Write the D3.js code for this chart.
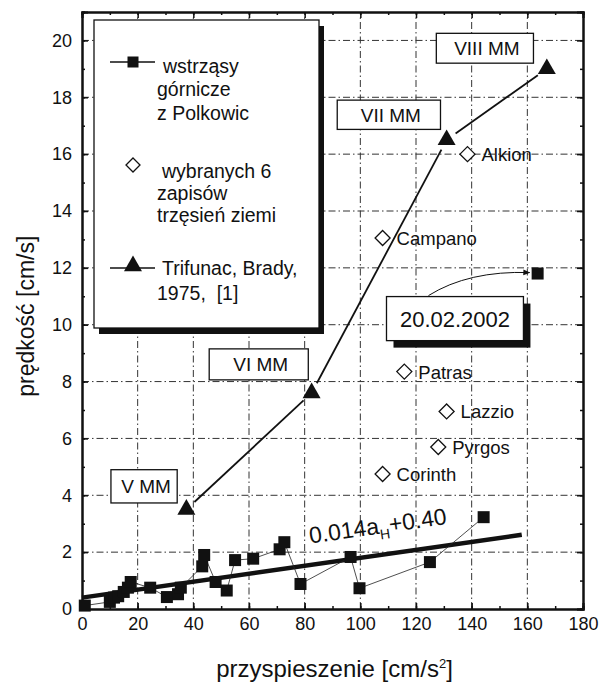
<!DOCTYPE html>
<html>
<head>
<meta charset="utf-8">
<script src="https://cdn.jsdelivr.net/npm/d3@7"></script>
<style>
  body { margin: 0; background: #fff; }
  text { font-family: "Liberation Sans", Arial, sans-serif; fill: #111; }
</style>
</head>
<body>
<div id="chart"></div>
<script>
// --- data ---
var polkowiceX = [1, 10, 11.5, 13, 15, 16.5, 17.5, 24.5, 30.5, 34.5, 35.5, 43.2, 43.9, 48, 52, 55, 61.5, 71, 72.7, 78.5, 96.5, 99.7, 125, 144.3];
var polkowiceY = [0.12, 0.25, 0.4, 0.45, 0.6, 0.75, 0.95, 0.75, 0.42, 0.52, 0.75, 1.5, 1.9, 0.95, 0.65, 1.72, 1.77, 2.1, 2.35, 0.88, 1.83, 0.73, 1.65, 3.23];
var eventX = 163.7, eventY = 11.8;            // 20.02.2002
var quakeNames = ["Alkion", "Campano", "Patras", "Lazzio", "Pyrgos", "Corinth"];
var quakeX = [138.5, 108, 115.8, 131, 128, 108];
var quakeY = [16, 13.05, 8.35, 6.95, 5.7, 4.75];
var trifunacX = [37.5, 82.5, 131, 167];
var trifunacY = [3.5, 7.6, 16.5, 19];
var mmLabels = ["V MM", "VI MM", "VII MM", "VIII MM"];
// label boxes in data units: [x0, x1, y0, y1]
var mmBoxes = [[10.4, 34.2, 3.73, 4.9], [45.7, 81.3, 8.06, 9.15], [91.7, 128.8, 16.87, 17.9], [127.3, 162.2, 19.2, 20.25]];
var dateBox = [109.4, 158.6, 9.44, 10.99];
var fitSlope = 0.014, fitIntercept = 0.40, fitRange = [0, 158];
var xTicks = d3.range(0, 181, 20), xMinor = d3.range(0, 181, 10);
var yTicks = d3.range(0, 21, 2), yMinor = d3.range(0, 22, 1);

var W = 599, H = 684;
var margin = {top: 12, right: 16, bottom: 75, left: 82};

var svg = d3.select("#chart").append("svg")
    .attr("width", W).attr("height", H);

var x = d3.scaleLinear().domain([0, 180]).range([margin.left, W - margin.right]);
var y = d3.scaleLinear().domain([0, 21]).range([H - margin.bottom, margin.top]);

// grid (dash-dot)
var grid = svg.append("g").attr("stroke", "#333").attr("stroke-width", 1)
    .attr("stroke-dasharray", "7,3,1.5,3");
grid.selectAll(".gx").data(xTicks.slice(1, -1)).enter().append("line")
    .attr("x1", function(d) { return x(d); }).attr("x2", function(d) { return x(d); })
    .attr("y1", y(0)).attr("y2", y(21));
grid.selectAll(".gy").data(yTicks.slice(1)).enter().append("line")
    .attr("y1", function(d) { return y(d); }).attr("y2", function(d) { return y(d); })
    .attr("x1", x(0)).attr("x2", x(180));

// axes, ticks pointing inward on all four sides
function axisStyle(g) {
    g.select(".domain").attr("stroke", "#111").attr("stroke-width", 2);
    g.selectAll(".tick line").attr("stroke", "#111").attr("stroke-width", 1.5);
    g.selectAll("text").style("font-size", "18px").attr("fill", "#111");
}
svg.append("g").attr("transform", "translate(0," + y(0) + ")")
    .call(d3.axisBottom(x).tickValues(xMinor).tickSize(-3).tickFormat(""))
    .call(axisStyle);
svg.append("g").attr("transform", "translate(0," + y(0) + ")")
    .call(d3.axisBottom(x).tickValues(xTicks).tickSize(-6).tickPadding(8))
    .call(axisStyle);
svg.append("g").attr("transform", "translate(0," + y(21) + ")")
    .call(d3.axisTop(x).tickValues(xMinor).tickSize(-3).tickFormat(""))
    .call(axisStyle);
svg.append("g").attr("transform", "translate(0," + y(21) + ")")
    .call(d3.axisTop(x).tickValues(xTicks).tickSize(-6).tickFormat(""))
    .call(axisStyle);
svg.append("g").attr("transform", "translate(" + x(0) + ",0)")
    .call(d3.axisLeft(y).tickValues(yMinor).tickSize(-3).tickFormat(""))
    .call(axisStyle);
svg.append("g").attr("transform", "translate(" + x(0) + ",0)")
    .call(d3.axisLeft(y).tickValues(yTicks).tickSize(-6).tickPadding(10))
    .call(axisStyle);
svg.append("g").attr("transform", "translate(" + x(180) + ",0)")
    .call(d3.axisRight(y).tickValues(yMinor).tickSize(-3).tickFormat(""))
    .call(axisStyle);
svg.append("g").attr("transform", "translate(" + x(180) + ",0)")
    .call(d3.axisRight(y).tickValues(yTicks).tickSize(-6).tickFormat(""))
    .call(axisStyle);

// axis titles
svg.append("text")
    .attr("x", (x(0) + x(180)) / 2 + 2).attr("y", 677)
    .attr("text-anchor", "middle").style("font-size", "24px")
    .html("przyspieszenie [cm/s<tspan dy='-9' style='font-size:13px'>2</tspan><tspan dy='9'>]</tspan>");
svg.append("text")
    .attr("transform", "translate(34," + (y(10.3)) + ") rotate(-90)")
    .attr("text-anchor", "middle").style("font-size", "23px")
    .text("prędkość [cm/s]");

// regression line
svg.append("line")
    .attr("x1", x(fitRange[0])).attr("y1", y(fitIntercept + fitSlope * fitRange[0]))
    .attr("x2", x(fitRange[1])).attr("y2", y(fitIntercept + fitSlope * fitRange[1]))
    .attr("stroke", "#111").attr("stroke-width", 4.5);
var ang = Math.atan2(y(fitIntercept + fitSlope * 100) - y(fitIntercept), x(100) - x(0)) * 180 / Math.PI;
svg.append("text")
    .attr("transform", "translate(" + x(82) + "," + y(2.3) + ") rotate(" + ang + ")")
    .style("font-size", "23px")
    .html("0.014a<tspan dy='6' style='font-size:14px'>H</tspan><tspan dy='-6'>+0.40</tspan>");

// thin connecting line of the Polkowice points
var pts = polkowiceX.map(function(d, i) { return [d, polkowiceY[i]]; });
svg.append("path")
    .datum(pts)
    .attr("d", d3.line().x(function(d) { return x(d[0]); }).y(function(d) { return y(d[1]); }))
    .attr("fill", "none").attr("stroke", "#222").attr("stroke-width", 0.8);

// Trifunac, Brady line with gaps near markers
var tri = trifunacX.map(function(d, i) { return [x(d), y(trifunacY[i])]; });
for (var i = 0; i < tri.length - 1; i++) {
    var a = tri[i], b = tri[i + 1];
    var dx = b[0] - a[0], dy = b[1] - a[1], L = Math.sqrt(dx * dx + dy * dy);
    var g = 11;
    svg.append("line")
        .attr("x1", a[0] + dx / L * g).attr("y1", a[1] + dy / L * g)
        .attr("x2", b[0] - dx / L * g).attr("y2", b[1] - dy / L * g)
        .attr("stroke", "#111").attr("stroke-width", 1.8);
}

// white label boxes for MM intensity
mmLabels.forEach(function(lab, i) {
    var bx = mmBoxes[i];
    svg.append("rect")
        .attr("x", x(bx[0])).attr("y", y(bx[3]))
        .attr("width", x(bx[1]) - x(bx[0])).attr("height", y(bx[2]) - y(bx[3]))
        .attr("fill", "#fff").attr("stroke", "#111").attr("stroke-width", 1.3);
    svg.append("text")
        .attr("x", (x(bx[0]) + x(bx[1])) / 2 + 2).attr("y", (y(bx[2]) + y(bx[3])) / 2 + 7)
        .attr("text-anchor", "middle").style("font-size", "19px")
        .text(lab);
});

// Trifunac markers
svg.selectAll(".tri").data(trifunacX).enter().append("path")
    .attr("d", d3.symbol().type(d3.symbolTriangle).size(140))
    .attr("transform", function(d, i) { return "translate(" + x(d) + "," + y(trifunacY[i]) + ")"; })
    .attr("fill", "#111");

// earthquake records (open diamonds)
function diamond(r) { return "M0," + (-r) + "L" + r + ",0L0," + r + "L" + (-r) + ",0Z"; }
svg.selectAll(".dia").data(quakeX).enter().append("path")
    .attr("d", diamond(7.5))
    .attr("transform", function(d, i) { return "translate(" + x(d) + "," + y(quakeY[i]) + ")"; })
    .attr("fill", "#fff").attr("stroke", "#111").attr("stroke-width", 1.3);
svg.selectAll(".dlab").data(quakeNames).enter().append("text")
    .attr("x", function(d, i) { return x(quakeX[i]) + 14; })
    .attr("y", function(d, i) { return y(quakeY[i]) + 7; })
    .style("font-size", "18.5px")
    .text(function(d) { return d; });

// Polkowice squares
svg.selectAll(".sq").data(pts).enter().append("rect")
    .attr("x", function(d) { return x(d[0]) - 6; })
    .attr("y", function(d) { return y(d[1]) - 6; })
    .attr("width", 12).attr("height", 12).attr("fill", "#111");
svg.append("rect")
    .attr("x", x(eventX) - 6).attr("y", y(eventY) - 6)
    .attr("width", 12).attr("height", 12).attr("fill", "#111");

// 20.02.2002 box with shadow and curved arrow
var dbx = x(dateBox[0]), dby = y(dateBox[3]), dbw = x(dateBox[1]) - x(dateBox[0]), dbh = y(dateBox[2]) - y(dateBox[3]);
svg.append("rect").attr("x", dbx + 7).attr("y", dby + 7).attr("width", dbw).attr("height", dbh).attr("fill", "#111");
svg.append("rect").attr("x", dbx).attr("y", dby).attr("width", dbw).attr("height", dbh)
    .attr("fill", "#fff").attr("stroke", "#111").attr("stroke-width", 1.3);
svg.append("text").attr("x", dbx + dbw / 2).attr("y", dby + dbh / 2 + 8)
    .attr("text-anchor", "middle").style("font-size", "22px").text("20.02.2002");

svg.append("defs").append("marker").attr("id", "arr")
    .attr("viewBox", "0 0 10 10").attr("refX", 9).attr("refY", 5)
    .attr("markerWidth", 7).attr("markerHeight", 7).attr("orient", "auto")
    .append("path").attr("d", "M0,1L10,5L0,9Z").attr("fill", "#111");
var ax0 = dbx + 42, ay0 = dby - 1, ax1 = x(eventX) - 8, ay1 = y(eventY) - 1;
svg.append("path")
    .attr("d", "M" + ax0 + "," + ay0 + "Q" + (ax0 + 40) + "," + (ay1 - 2) + " " + ax1 + "," + ay1)
    .attr("fill", "none").attr("stroke", "#111").attr("stroke-width", 1)
    .attr("marker-end", "url(#arr)");

// legend with drop shadow
var lg = svg.append("g");
lg.append("rect").attr("x", 99).attr("y", 26).attr("width", 225).attr("height", 308).attr("fill", "#111");
lg.append("rect").attr("x", 94).attr("y", 20).attr("width", 225).attr("height", 308)
    .attr("fill", "#fff").attr("stroke", "#111").attr("stroke-width", 1.3);

lg.append("line").attr("x1", 110).attr("x2", 155).attr("y1", 62).attr("y2", 62)
    .attr("stroke", "#111").attr("stroke-width", 1.5);
lg.append("rect").attr("x", 127.5).attr("y", 56.5).attr("width", 11).attr("height", 11).attr("fill", "#111");
lg.append("path").attr("d", diamond(7)).attr("transform", "translate(133,165)")
    .attr("fill", "#fff").attr("stroke", "#111").attr("stroke-width", 1.3);
lg.append("line").attr("x1", 110).attr("x2", 155).attr("y1", 268).attr("y2", 268)
    .attr("stroke", "#111").attr("stroke-width", 1.5);
lg.append("path").attr("d", d3.symbol().type(d3.symbolTriangle).size(140))
    .attr("transform", "translate(133,266)").attr("fill", "#111");

var legendLines = [
    [163, 73, "wstrząsy"], [157, 96, "górnicze"], [157, 120, "z Polkowic"],
    [162, 178, "wybranych 6"], [157, 200, "zapisów"], [157, 222, "trzęsień ziemi"],
    [162, 275, "Trifunac, Brady,"], [157, 300, "1975,  [1]"]
];
lg.selectAll(".lt").data(legendLines).enter().append("text")
    .attr("x", function(d) { return d[0]; }).attr("y", function(d) { return d[1]; })
    .attr("xml:space", "preserve")
    .style("font-size", "19.5px").style("white-space", "pre")
    .text(function(d) { return d[2]; });
</script>
</body>
</html>
